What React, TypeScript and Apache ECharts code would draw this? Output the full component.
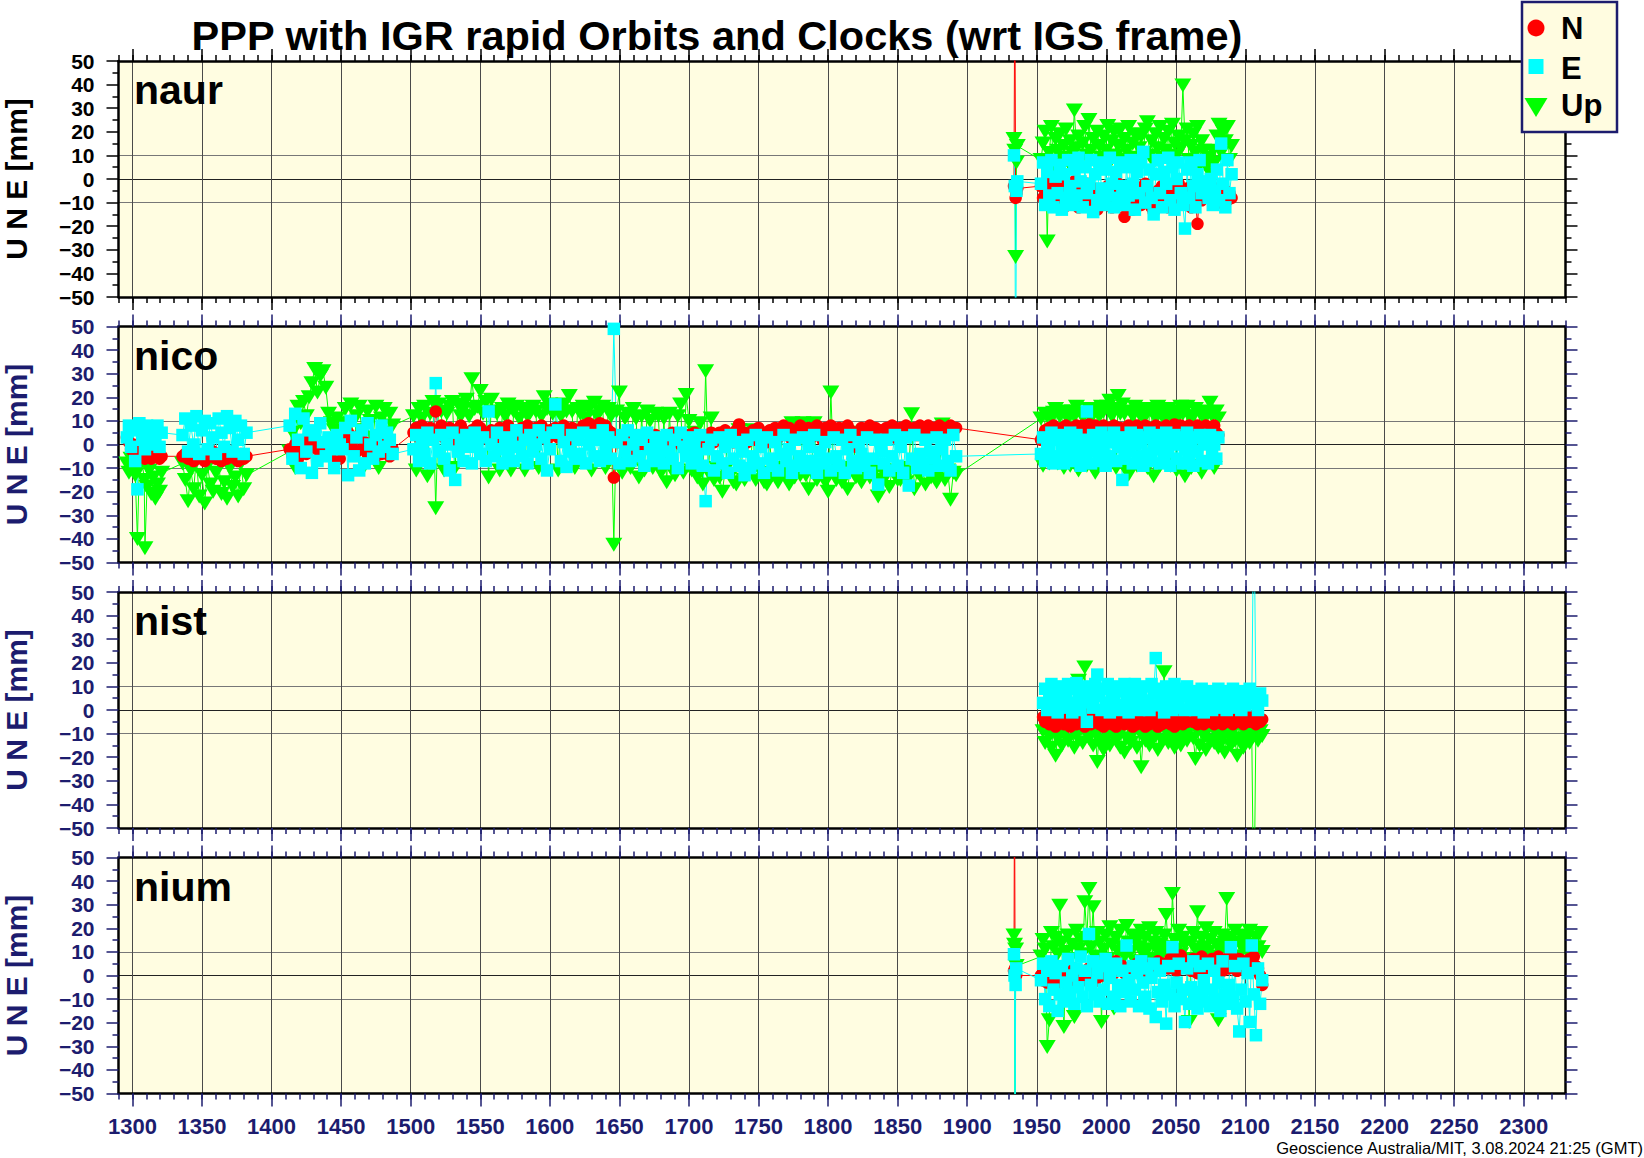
import React, { useEffect, useRef } from 'react';
import * as echarts from 'echarts';

// ---------------- data ----------------
const X_MIN = 1290;
const X_MAX = 2330;
const X_TICKS = [1300, 1350, 1400, 1450, 1500, 1550, 1600, 1650, 1700, 1750, 1800, 1850, 1900, 1950, 2000, 2050, 2100, 2150, 2200, 2250, 2300];
const Y_MIN = -50;
const Y_MAX = 50;
const STATION_NAMES = ['naur', 'nico', 'nist', 'nium'];
const SERIES_NAMES = ['N', 'E', 'Up'];

// observation epochs (GPS week) used by the 1950-2113 stretch
const EPOCHS = [
  1951.5, 1953, 1954.5, 1956, 1957.5, 1959, 1960.5, 1962, 1963.5, 1965,
  1966.5, 1968, 1969.5, 1971, 1972.5, 1974, 1975.5, 1977, 1978.5, 1980,
  1981.5, 1983, 1984.5, 1986, 1987.5, 1989, 1990.5, 1992, 1993.5, 1995,
  1996.5, 1998, 1999.5, 2001, 2002.5, 2004, 2005.5, 2007, 2008.5, 2010,
  2011.5, 2013, 2014.5, 2016, 2017.5, 2019, 2020.5, 2022, 2023.5, 2025,
  2026.5, 2028, 2029.5, 2031, 2032.5, 2034, 2035.5, 2037, 2038.5, 2040,
  2041.5, 2043, 2044.5, 2046, 2047.5, 2049, 2050.5, 2052, 2053.5, 2055,
  2056.5, 2058, 2059.5, 2061, 2062.5, 2064, 2065.5, 2067, 2068.5, 2070,
  2071.5, 2073, 2074.5, 2076, 2077.5, 2079, 2080.5, 2082, 2083.5, 2085,
  2086.5, 2088, 2089.5, 2091, 2092.5, 2094, 2095.5, 2097, 2098.5, 2100,
  2101.5, 2103, 2104.5, 2106, 2107.5, 2109, 2110.5, 2112, 2113.5];

// ---- naur ----
const NAUR_X0 = [1933.6, 1934.2, 1934.8, 1935.4, 1936.0];
const NAUR_N0 = [-3, 90, -8, -6, -4];
const NAUR_E0 = [10, -3, -90, -5, -1];
const NAUR_U0 = [17, 12, -33, 7, 14];
const NAUR_X1 = EPOCHS.slice(1, 80); // 1953 .. 2070
const NAUR_E1 = [
  -2, 7, -11, 3, -7, 8, -12, 1, -6, 6,
  -13, 2, -8, 8, -3, -11, 4, -7, 9, -1,
  -12, 5, -6, -2, 8, -14, 2, -9, 7, -4,
  -11, 4, -7, 9, -2, -12, 3, -8, 7, -3,
  -11, 5, -7, 8, -2, -13, 3, -6, 7, 11.5,
  -10, -3, 4, -8, -15, 2, 8, -6, -12, 3,
  -2, 9, -9, 5, -13, 0, 7, -6, -11, -21,
  4, -8, 7, -3, -12, 2, 8, -6, -1];
const NAUR_N1 = [
  -3, -8, -5, -10, -2, -7, -11, -4, -9, -1,
  -6, -12, -3, -8, -5, -10, -1, -7, -12, -4,
  -9, -6, -2, -11, -7, -4, -9, -13, -5, -8,
  -6, -10, -3, -8, -12, -5, -9, -2, -11, -7,
  -16, -4, -10, -6, -13, -3, -8, -5, -11, -7,
  -2, -9, -6, -12, -14, -8, -5, -10, -3, -9,
  -6, -12, -4, -8, -11, -7, -2, -9, -6, -10,
  -4, -8, -12, -5, -9, -19, -6, -9, -4];
const NAUR_U1 = [
  8, 15, 20, -26.5, 11, 22, 6, 17, 12, 19,
  9, 14, 21, 7, 16, 11, 29, 13, 18, 8,
  15, 22, 10, 25, 12, 17, 7, 20, 14, 9,
  18, 12, 22.5, 7, 16, 20, 10, 14, 21, 8,
  17, 12, 22, 9, 15, 19, 6, 13, 18, 11,
  21, 24, 10, 16, 7, 19, 13, 22, 9, 17,
  12, 20, 7, 23, 15, 10, 18, 13, 39.6, 16,
  21, 8, 14, 19, 11, 22, 6, 16, 12];
const NAUR_X2 = [2072, 2073.5, 2075, 2076.5, 2078, 2079.5, 2081, 2082.5, 2084, 2085.5, 2087, 2088.5, 2090];
const NAUR_E2 = [-3, -8, 0, -11, -5, 4, -9, 15, -2, -12, 8, -6, 2];
const NAUR_N2 = [-5, -8, -3, -9, -6, -4, -10, -7, -8, -5, -9, -6, -8];
const NAUR_U2 = [5, 9, 2, 12, 7, 18, 23, 11, 20, 16, 22, 8, 14];

// ---- nico ----
const NICO_XA = [1296, 1297.5, 1299, 1300.5, 1302, 1303.6, 1305, 1307, 1308.5, 1309, 1310.5, 1312, 1313.5, 1315, 1316.5, 1318, 1319.5, 1321];
const NICO_EA = [3, 8, -1, 6, -7, -19, 9, 2, 6, -2, 8, 4, 0, 7, 3, 8, -1, 5];
const NICO_NA = [3, 1, -2, 0, -3, -1, -4, -5, -3, -6, -4, -5, -6, -3, -5, -4, -6, -5];
const NICO_UA = [-8, -12, -6, -10, -13, -40, -9, -7, -15, -44, -18, -11, -21, -14, -23, -17, -20, -12];
const NICO_XB = [1336, 1338, 1340, 1342, 1344, 1346, 1348, 1350, 1352, 1354, 1356, 1358, 1360, 1362, 1364, 1366, 1368, 1370, 1372, 1374, 1376, 1378, 1380, 1382];
const NICO_EB = [4, 11, -3, 8, 0, 12, -4, 6, 10, -2, 9, 3, -4, 11, 5, -1, 12, 7, -3, 10, 2, 8, -4, 5];
const NICO_NB = [-5, -4, -6, -3, -7, -5, -4, -6, -7, -4, -5, -3, -6, -5, -7, -4, -6, -5, -3, -6, -7, -4, -6, -5];
const NICO_UB = [-8, -15, -24, -11, -19, -6, -22, -13, -25, -9, -17, -20, -12, -7, -21, -16, -23, -10, -18, -14, -22, -8, -19, -13];
const NICO_XC = [1413, 1415, 1417, 1419, 1421, 1423, 1425, 1427, 1429, 1431, 1433, 1435, 1437, 1439, 1441, 1443, 1445, 1447, 1449];
const NICO_EC = [8, -6, 13, 2, -10, 11, -3, 6, -12, 4, -7, 9, 1, -5, 3, -2, -10, 4, 0];
const NICO_NC = [-2, -5, 0, -6, -3, 1, -4, 2, -1, 3, -2, 0, 1, -3, -1, -4, -5, -2, -6];
const NICO_UC = [-3, 5, -10, 16, 9, 18, 12, 20, 26, 32, 22, 29, 31, 24, 13, 9, 6, 11, 3];
const NICO_XD = [1451, 1453, 1455, 1457, 1459, 1461, 1463, 1465, 1467, 1469, 1471, 1473, 1475, 1477, 1479, 1481, 1483, 1485, 1487];
const NICO_ED = [-2, 7, -13, 10, -5, 3, -11, 6, -8, 9, 0, -6, 4, -3, 8, -1, 5, 2, -4];
const NICO_ND = [3, -1, 5, 0, 2, -3, 4, -2, 1, -4, -3, 0, -5, -2, -4, -3, 1, -5, -2];
const NICO_UD = [9, 15, 2, 17, -4, 12, 16, 6, -9, 14, 10, 3, 16, -10, 11, 15, 5, 13, 8];
const NICO_XE = [
  1502, 1504, 1506, 1508, 1510, 1512, 1514, 1516, 1518, 1520,
  1522, 1524, 1526, 1528, 1530, 1532, 1534, 1536, 1538, 1540,
  1542, 1544, 1546, 1548, 1550, 1552, 1554, 1556, 1558, 1560,
  1562, 1564, 1566, 1568, 1570, 1572, 1574, 1576, 1578, 1580,
  1582, 1584, 1586, 1588, 1590, 1592, 1594, 1596, 1598, 1600,
  1602, 1604, 1606, 1608, 1610, 1612, 1614, 1616, 1618, 1620,
  1622, 1624, 1626, 1628, 1630, 1632, 1634, 1636, 1638, 1640,
  1642, 1644, 1646, 1648, 1650, 1652, 1654, 1656, 1658, 1660,
  1662, 1664, 1666, 1668, 1670, 1672, 1674, 1676, 1678, 1680,
  1682, 1684, 1686, 1688, 1690, 1692, 1694, 1696, 1698, 1700,
  1702, 1704, 1706, 1708, 1710, 1712, 1714, 1716, 1718, 1720,
  1722, 1724, 1726, 1728, 1730, 1732, 1734, 1736, 1738, 1740,
  1742, 1744, 1746, 1748, 1750, 1752, 1754, 1756, 1758, 1760,
  1762, 1764, 1766, 1768, 1770, 1772, 1774, 1776, 1778, 1780,
  1782, 1784, 1786, 1788, 1790, 1792, 1794, 1796, 1798, 1800,
  1802, 1804, 1806, 1808, 1810, 1812, 1814, 1816, 1818, 1820,
  1822, 1824, 1826, 1828, 1830, 1832, 1834, 1836, 1838, 1840,
  1842, 1844, 1846, 1848, 1850, 1852, 1854, 1856, 1858, 1860,
  1862, 1864, 1866, 1868, 1870, 1872, 1874, 1876, 1878, 1880,
  1882, 1884, 1886, 1888, 1890, 1892];
const NICO_EE = [
  -2, 4, -7, 1, -4, 5, -8, 2, 26, -3,
  4, -6, 0, -11, 5, -15, -3, 2, -7, 4,
  -1, -8, 5, 1, -4, 3, -7, 14, 0, -5,
  5, -2, -8, 3, -4, 1, -7, 6, -1, -5,
  2, -8, 4, -3, 0, 6, -6, 3, -11, -2,
  5, 17, 6, -7, 1, -9.5, -3, 4, -6, 2,
  -4, 5, -8, 0, 4, -5, 2, -7, 6, -2,
  3, -6, 49, 1, -8, 4, -3, 6, -7, 0,
  4, -5, 2, -9, 5, -2, -7, 3, -4, 1,
  -8, 4, -3, -6, 2, -10, 5, -1, -5, 3,
  -8, 0, -4, 4, -9, -24, -2, 2, -11, -5,
  3, -8, -1, -12, 4, -6, 1, -9, -3, -13,
  2, -10, -5, 4, -8, -1, -12, 3, -6, -9,
  1, -11, -4, 4, -7, -2, -12, 2, -9, -5,
  3, -10, -1, -7, 4, -12, -3, -8, 1, -6,
  -11, 3, -5, -9, 2, -12, -2, 4, -7, -10,
  1, -4, -9, 3, -12, -6, 2, -17, -3, -8,
  2, -11, -5, 4, -9, -1, -12, 3, -17.4, -6,
  4, -10, -4, -8, 2, -11, -3, -6, 3, -9,
  -2, 2, -7, -11, 4, -5];
const NICO_NE = [
  5, 7, 3, 8, 6, 4, 7, 2, 14, 6,
  8, 3, 5, 7, 2, 6, 4, 8, 3, 5,
  2, 6, 4, 8, 7, 3, 5, 2, 6, 4,
  3, 7, 2, 5, 8, 1, 4, 6, 3, 7,
  5, 8, 6, 4, 7, 3, 8, 5, 2, 6,
  4, 7, 3, 6, 8, 5, 2, 7, 4, 6,
  5, 8, 6, 9, 7, 8, 6, 9, 7, 8,
  6, 5, -14, 3, 1, 4, 0, 3, -2, 2,
  4, 0, 3, 1, -1, 3, 1, 4, 0, 2,
  -2, 3, 1, 5, 2, 4, 0, 3, 1, 4,
  2, 5, 1, 4, 0, 3, 2, 5, 1, 3,
  5, 2, 6, 3, 4, 1, 6, 8.5, 3, 5,
  1, 4, 6, 2, 7, 3, 5, 1, 6, 4,
  7, 3, 6, 8, 4, 7, 2, 5, 6, 8,
  4, 6, 7, 3, 5, 8, 6, 2, 7, 5,
  8, 4, 6, 7, 3, 5, 8, 6, 2, -1,
  5, 7, 4, 6, 8, 3, 7, 5, 6, 4,
  7, 5, 8, 3, 6, 7, 4, 8, 5, 6,
  7, 4, 8, 6, 5, 8, 3, 7, 6, 8,
  5, 7, 4, 8, 6, 7];
const NICO_UE = [
  12, -11, 15, 11, 16, -13.5, 13, 18, -27, 17,
  14, -11, 13, 16, 18, -10, 17, 12, 15, 19,
  12, 27.7, 15, 16, 22.7, 13, 18, -14, 19, 14,
  13, -11, 15, 12, 17, -11, 14, 16, 11, 15,
  -11, 12, 13.5, 16, 14, -10, 12, 20, 15, 17,
  13, 16, -11, 12, 17, 14, 20.5, 14, -10, 15,
  13, 16, 11, 15, -11, 17.7, 12, 14, 16, -10,
  15, 12, -42.5, 14, 22, -12, 11, 13, -10, 15,
  11, -14, 12, -11, 14, 10, -10, 13, 12, -12,
  11, -16, 13, -11, -13, 12, 17, -12, 21, 10,
  -11, 5, -14, 9, -17, 31, -12, 11, -15, -10,
  -14, -20, -11, 3, -13, -16, -17, 6, -11, -15,
  -12, -11, 6, -15, -10, -12, -16, -17, 2, -13,
  -10, -16, 4, -12, -14, -17, 9, -14, -11, -13,
  9, -13, -19, -11, 9, -15, -10, -12, -16, -20,
  22, -12, -15, -11, -16, -13, -19, -10, 5, -14,
  -10, -16, -13, -12, -14, -11, -11, -22, -15, -12,
  -13, -18, -11, -12, -15, -15, -10, -16, -12, 12.8,
  -19, -12, -13, -11, -17, -10, -14, -13, -16, -12,
  8.5, -15, -11, -23.4, -12, -13];
const NICO_XF = EPOCHS.slice(1, 87); // 1953 .. 2080.5
const NICO_EF = [
  -4, 3, -7, 1, -3, 5, -8, 2, -5, 4,
  -1, -8, 3, -4, 5, 0, -7, 4, -3, -9,
  2, -5, 14, -1, -8, 4, -3, 1, -7, 5,
  -2, -9, 3, -5, 1, 5, -7, -1, 3, -15,
  -6, 2, -3, 5, -8, 0, 4, -5, 1, -9,
  3, -4, 5, -7, 0, -2, 4, -8, 2, -5,
  5, -3, -9, 1, 4, -6, 0, 3, -8, -2,
  5, -5, 1, -9, 3, -3, 4, -7, 0, 2,
  -8, 4, -4, 0, -6, 3];
const NICO_NF = [
  2, 4, 6, 3, 7, 5, 8, 4, 6, 3,
  7, 5, 8, 6, 4, 7, 5, 8, 3, 6,
  8, 5, 7, 8.5, 4, 6, 8, 5, 7, 4,
  8, 6, 3, 7, 5, 8, 4, 6, 7, 5,
  3, 7, 8, 5, 6, 4, 8, 7, 5, 6,
  8, 4, 7, 6, 3, 8, 5, 7, 4, 6,
  8, 5, 7, 4, 8.5, 6, 5, 8, 7, 4,
  6, 8, 5, 7, 3, 8, 6, 4, 7, 8,
  5, 7, 6, 8, 5, 4];
const NICO_UF = [
  11, -9, 13, 12, -8, 11, 13.5, 15, -8, 12,
  14, -10, 12, 11, -9, 14, 12, 16, -11, 13,
  12, 13, -9, 15, 11, 15, -12, 14, 12, 16,
  14, -8, 16, 18.5, 12, 15, -10, 20.5, 13, 17,
  13, -11, -12.8, 14, 12, 16, -9, 13, 15, 11,
  12, -10, 15, 14, -13.5, 11, 16, -9, 12, 14,
  12, 15, -9, 11, 14, -11, 12, 16, 13, -13.5,
  16, 12, -10, 12, 15, -9, 13.5, -12, 11, 14,
  13, 17.7, 12, -10, 14, 11];

// ---- nist ----
const NIST_X1 = EPOCHS.slice(2, 72); // 1954.5 .. 2058
const NIST_E1 = [
  3, 9, 0, 6, 11, 2, 8, -1, 5, 10,
  1, 7, 11, 3, -1, 9, 11.4, 5, 0, 8,
  10, -5, 4, 8, 1, 11, 15, 6, 0, 9,
  3, 11, -1, 7, 4, 10, 0, 8, 2, 11,
  5, -1, 9, 3, 11, 6, 0, 8, 2, 10,
  4, 0, 11, 7, 22, 2, 9, 5, -1, 10,
  3, 8, 0, 11, 5, 1, 9, 6, 0, 10];
const NIST_N1 = [
  -3, -5, -2, -6, -4, -1, -7, -3, -5, -2,
  -6, -4, -3, -7, -5, -2, -6, -4, -3, -5,
  -7, -2, -4, -6, -3, -5, -1, -6, -4, -7,
  -3, -5, -2, -6, -4, -7, -3, -5, -2, -6,
  -4, -1, -5, -7, -3, -6, -4, -2, -5, -7,
  -3, -6, -4, -2, -5, -7, -3, -6, -4, -5,
  -2, -6, -4, -7, -3, -5, -2, -6, -4, -5];
const NIST_U1 = [
  -9, -14, -6, -11, -16, -8, -19.4, -12, -7, -15,
  -10, -6, -13, 9, -8, -16, -11, 12.4, -7, -14,
  18, -9, -12, -6, -15, -10, -22, -8, -13, -17,
  -7, -11, -15, -9, -6, -13, -10, -16, -8, -18,
  -12, -7, -14, -10, -6, -16, -9, -24.3, -11, -13,
  -8, -15, -6, -12, -10, -17, -7, -13, 16, -9,
  -14, -6, -11, -16, -8, -12, -15, -7, -10, -13];
const NIST_X2 = EPOCHS.slice(73, 108); // 2061 .. 2112
const NIST_E2 = [
  3, 8, 0, 6, 1, 9, -1, 5, 2, 8,
  0, 7, 4, 9, 1, 5, 8, 0, 6, 3,
  9, 1, 7, 4, 0, 8, 2, 6, 9, 3,
  90, 5, 0, 7, 4];
const NIST_N2 = [
  -2, -5, -3, -6, -1, -4, -6, -2, -5, -3,
  -4, -6, -1, -5, -3, -6, -2, -4, -5, -3,
  -6, -2, -4, -5, -3, -6, -4, -2, -5, -3,
  -4, -6, -3, -5, -4];
const NIST_U2 = [
  -7, -12, -20.8, -9, -15, -6, -11, -17, -8, -13,
  -6, -14, -10, -16, -8, -12, -18, -7, -11, -15,
  -9, -13, -19.4, -6, -12, -16, -8, -11, -14, -10,
  -90, -7, -13, -9, -11];

// ---- nium ----
const NIUM_X0 = [1933.6, 1934.0, 1934.4, 1934.8, 1935.2];
const NIUM_N0 = [2, 90, 3, 1, 0];
const NIUM_E0 = [9, 0, -90, -4, 3];
const NIUM_U0 = [17, 13, -90, 11, 4];
const NIUM_X1 = EPOCHS.slice(1, 108); // 1953 .. 2112
const NIUM_E1 = [
  -2, 5, -10, 2, -13, 6, -6, 1, -15, -8,
  4, -11, -3, 7, -7, 0, -12, 3, -5, 8,
  -9, 2, -13, 17.6, -4, 6, -8, 1, -11, 4,
  -6, 7, -12, -1, 3, -9, 5, -4, -13, 2,
  -7, 12.7, -2, -11, 4, -6, 1, -13, 6, -3,
  -9, 3, -14, -1, 5, -17.6, -7, 2, -11, -4,
  -20.4, 4, -8, 12, -13, -3, 5, -10, -6, -19.7,
  3, -12, -5, 6, -9, -14, 4, -7, -2, -11,
  5, -13, -6, 2, -10, -3, -15, 6, -8, -12,
  -4, 12, -9, 4, -14, -23.7, -6, 5, -11, 1,
  -19.7, 12.7, -8, -25.3, 3, -12, -2];
const NIUM_N1 = [
  0, -2, 1, -3, 2, -1, 0, -4, 1, -2,
  -1, 2, -3, 0, 1, -2, 3, -1, 0, 2,
  -2, 1, -1, 3, 0, -3, 2, -1, 1, 3,
  0, 4, 6, 2, 5, 1, 6, 3, 2, 4,
  1, 3, -1, 2, 4, 3, 5, 2, 4, 3,
  2, 4, 3, 5, 2, 4, 6, 3, 5, 4,
  5, 3, 7, 4, 8, 2, 6, 8.5, 4, 6,
  3, 6, 2, 7, 4, 1, 6, 8, 3, 5,
  4, 2, 7, 5, 3, 8, 4, 2, 6, 7,
  3, 6, 8, 4, 2, 7, 5, 3, 6, 4,
  7, 5, 8, 4, 3, 0, -4];
const NIUM_U1 = [
  8, 15, 11, -30.3, -19, 18, 12, 16, 9, 29.6,
  14, -21.8, 10, 17, 7, 13, -17.6, 19, 11, 15,
  9, 31, 16, 36.6, 12, 28.9, 8, 18, 14, -19.7,
  11, 17, 7, 20.4, 13, -14, 16, 10, 19, 12,
  8, 21, 14, 10, 17, 6, 15, 12, 19, 9,
  16, 11, 20, 7, 14, 18, 10, 13, 9, 17,
  25.6, 12, 8, 34.5, 15, 11, 19, 9, 16, 13,
  7, -19.7, 14, 18, 11, 26.8, 9, 16, 12, 20,
  10, 15, 8, 18, 13, -19, 11, 17, 14, 32.4,
  9, 16, 12, 19, 8, 14, 17, 11, 15, 10,
  19, 13, 9, 16, 12, 18, 10];

const STATIONS = [
  { x: [...NAUR_X0, ...NAUR_X1, ...NAUR_X2], n: [...NAUR_N0, ...NAUR_N1, ...NAUR_N2], e: [...NAUR_E0, ...NAUR_E1, ...NAUR_E2], u: [...NAUR_U0, ...NAUR_U1, ...NAUR_U2] },
  {
    x: [...NICO_XA, ...NICO_XB, ...NICO_XC, ...NICO_XD, ...NICO_XE, ...NICO_XF],
    n: [...NICO_NA, ...NICO_NB, ...NICO_NC, ...NICO_ND, ...NICO_NE, ...NICO_NF],
    e: [...NICO_EA, ...NICO_EB, ...NICO_EC, ...NICO_ED, ...NICO_EE, ...NICO_EF],
    u: [...NICO_UA, ...NICO_UB, ...NICO_UC, ...NICO_UD, ...NICO_UE, ...NICO_UF],
  },
  { x: [...NIST_X1, ...NIST_X2], n: [...NIST_N1, ...NIST_N2], e: [...NIST_E1, ...NIST_E2], u: [...NIST_U1, ...NIST_U2] },
  { x: [...NIUM_X0, ...NIUM_X1], n: [...NIUM_N0, ...NIUM_N1], e: [...NIUM_E0, ...NIUM_E1], u: [...NIUM_U0, ...NIUM_U1] },
];

// ---------------- styling / layout ----------------
const W = 1644;
const H = 1158;
const GRID_LEFT = 118.5;
const GRID_WIDTH = 1447;
const PANEL_TOPS = [61, 326.5, 592, 857.5];
const PANEL_H = 236;
const NAVY = '#1c1c6e';
const BG = '#fffde1';
const FONT = '"Liberation Sans", Arial, Helvetica, sans-serif';
const T = 'rgba(0,0,0,0)';
const VGRID = '#4a4a4a';
const C_N = '#ff0000';
const C_E = '#00ffff';
const C_U = '#00ff00';

function pairs(xs: number[], ys: number[]) {
  const n = Math.min(xs.length, ys.length);
  const out: number[][] = [];
  for (let j = 0; j < n; j++) out.push([xs[j], ys[j]]);
  return out;
}

function yFmt(v: number) {
  return v < 0 ? '\u2212' + String(-v) : String(v);
}

function buildOption() {
  const grid: any[] = [];
  const xAxis: any[] = [];
  const yAxis: any[] = [];
  const series: any[] = [];
  const graphic: any[] = [];

  STATIONS.forEach((st, i) => {
    const top = PANEL_TOPS[i];
    const tc = i === 0 ? '#000' : NAVY;
    const frame = { show: true, onZero: false, lineStyle: { color: '#000', width: 2.5 } };
    const tickStyle = { color: tc, width: 1.5 };
    grid.push({
      left: GRID_LEFT, top, width: GRID_WIDTH, height: PANEL_H,
      show: true, backgroundColor: BG, borderWidth: 0, containLabel: false, outerBoundsMode: 'none',
    });
    const xb = { gridIndex: i, type: 'value', min: X_MIN, max: X_MAX, silent: true };
    xAxis.push({
      ...xb, position: 'bottom', interval: 10,
      axisLine: frame,
      axisTick: { show: true, inside: false, length: 6, lineStyle: tickStyle },
      axisLabel: { show: false },
      splitLine: { show: true, lineStyle: { color: [T, VGRID, T, T, T], width: 1 } },
    });
    xAxis.push({
      ...xb, position: 'bottom',
      axisLine: { show: false, onZero: false },
      axisTick: { show: true, inside: false, length: 13, customValues: X_TICKS, lineStyle: tickStyle },
      axisLabel: {
        show: i === STATIONS.length - 1, customValues: X_TICKS, formatter: (v: number) => String(v),
        color: NAVY, fontWeight: 'bold', fontSize: 22, fontFamily: FONT, margin: 22,
      },
      splitLine: { show: false },
    });
    xAxis.push({
      ...xb, position: 'top', interval: 10,
      axisLine: frame,
      axisTick: { show: true, inside: false, length: 6, lineStyle: tickStyle },
      axisLabel: { show: false },
      splitLine: { show: false },
    });
    xAxis.push({
      ...xb, position: 'top',
      axisLine: { show: false, onZero: false },
      axisTick: { show: true, inside: false, length: 12, customValues: X_TICKS, lineStyle: tickStyle },
      axisLabel: { show: false },
      splitLine: { show: false },
    });
    const yb = { gridIndex: i, type: 'value', min: Y_MIN, max: Y_MAX, interval: 10, silent: true };
    yAxis.push({
      ...yb, position: 'left',
      axisLine: frame,
      axisTick: { show: true, inside: false, length: 12, lineStyle: tickStyle },
      minorTick: { show: true, splitNumber: 2, length: 6, lineStyle: tickStyle },
      axisLabel: { show: true, color: tc, fontWeight: 'bold', fontSize: 21, fontFamily: FONT, margin: 24, formatter: yFmt },
      splitLine: { show: true, lineStyle: { color: [T, T, T, T, '#777', '#222', '#777', T, T, T, T], width: 1 } },
      minorSplitLine: { show: false },
      name: 'U N E [mm]', nameLocation: 'middle', nameRotate: 90, nameGap: 87,
      nameTextStyle: { color: tc, fontWeight: 'bold', fontSize: 30, fontFamily: FONT },
    });
    yAxis.push({
      ...yb, position: 'right',
      axisLine: frame,
      axisTick: { show: true, inside: false, length: 12, lineStyle: tickStyle },
      minorTick: { show: true, splitNumber: 2, length: 6, lineStyle: tickStyle },
      axisLabel: { show: false },
      splitLine: { show: false },
    });

    const common = {
      type: 'line', xAxisIndex: 4 * i, yAxisIndex: 2 * i, showSymbol: true, clip: true,
      silent: true, animation: false, emphasis: { disabled: true }, z: 2,
    };
    series.push({
      ...common, name: 'Up', data: pairs(st.x, st.u),
      symbol: 'triangle', symbolSize: [17, 14], symbolRotate: 180,
      lineStyle: { color: C_U, width: 1 }, itemStyle: { color: C_U },
    });
    series.push({
      ...common, name: 'N', data: pairs(st.x, st.n),
      symbol: 'circle', symbolSize: 12.5,
      lineStyle: { color: C_N, width: 1 }, itemStyle: { color: C_N },
    });
    series.push({
      ...common, name: 'E', data: pairs(st.x, st.e),
      symbol: 'rect', symbolSize: 12.5,
      lineStyle: { color: C_E, width: 1 }, itemStyle: { color: C_E },
    });

    graphic.push({
      type: 'text', x: 134, y: top + 29, silent: true, z: 50,
      style: { text: STATION_NAMES[i], fontSize: 41, fontWeight: 'bold', fontFamily: FONT, fill: '#000', align: 'left', verticalAlign: 'middle' },
    });
  });

  graphic.push({
    type: 'text', x: 717, y: 35, silent: true, z: 50,
    style: { text: 'PPP with IGR rapid Orbits and Clocks (wrt IGS frame)', fontSize: 41.5, fontWeight: 'bold', fontFamily: FONT, fill: '#000', align: 'center', verticalAlign: 'middle' },
  });
  graphic.push({ type: 'rect', silent: true, z: 60, shape: { x: 1522, y: 2, width: 95, height: 130 }, style: { fill: '#fffce0', stroke: NAVY, lineWidth: 2.5 } });
  graphic.push({ type: 'circle', silent: true, z: 61, shape: { cx: 1536, cy: 28, r: 8.5 }, style: { fill: C_N } });
  graphic.push({ type: 'rect', silent: true, z: 61, shape: { x: 1528.5, y: 59, width: 15, height: 15 }, style: { fill: C_E } });
  graphic.push({ type: 'polygon', silent: true, z: 61, shape: { points: [[1524.5, 98], [1547.5, 98], [1536, 117]] }, style: { fill: C_U } });
  const legendY = [28, 68, 105];
  SERIES_NAMES.forEach((nm, k) => {
    graphic.push({
      type: 'text', x: 1561, y: legendY[k], silent: true, z: 62,
      style: { text: nm, fontSize: 31, fontWeight: 'bold', fontFamily: FONT, fill: '#000', align: 'left', verticalAlign: 'middle' },
    });
  });
  graphic.push({
    type: 'text', x: 1643, y: 1148, silent: true, z: 50,
    style: { text: 'Geoscience Australia/MIT, 3.08.2024 21:25 (GMT)', fontSize: 16.5, fontFamily: FONT, fill: '#000', align: 'right', verticalAlign: 'middle' },
  });

  return {
    animation: false,
    backgroundColor: '#ffffff',
    textStyle: { fontFamily: FONT },
    grid, xAxis, yAxis, series, graphic,
  };
}

export default function App() {
  const ref = useRef<HTMLDivElement>(null);
  useEffect(() => {
    const el = ref.current;
    if (!el) return;
    const chart = echarts.init(el, null, { renderer: 'svg', width: W, height: H });
    chart.setOption(buildOption() as any);
    return () => chart.dispose();
  }, []);
  return <div ref={ref} style={{ position: 'absolute', left: 0, top: 0, width: W, height: H }} />;
}
